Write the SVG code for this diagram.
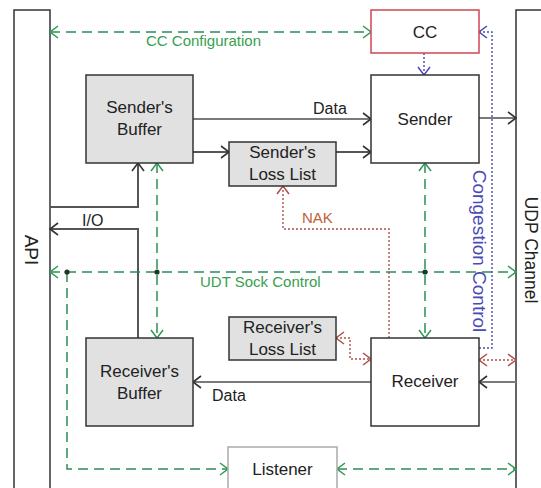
<svg xmlns="http://www.w3.org/2000/svg" width="541" height="488" viewBox="0 0 541 488">
  <style>
    text { font-family: "Liberation Sans", Arial, sans-serif; fill: #222; }
    .lbl { font-size: 17px; text-anchor: middle; }
    .box { stroke: #333; stroke-width: 1.5; fill: #fff; }
    .gray { fill: #e1e1e1; }
    .solid { fill: none; stroke: #555; stroke-width: 2; }
    .data { fill: none; stroke: #7a7a7a; stroke-width: 2.2; }
    .ctl { fill: none; stroke: #2e8a55; stroke-width: 1.5; stroke-dasharray: 10 6; }
    .nak { fill: none; stroke: #b0504a; stroke-width: 1.4; stroke-dasharray: 2 2; }
    .cong { fill: none; stroke: #4a4ab0; stroke-width: 1.4; stroke-dasharray: 2 2; }
    .gtxt { fill: #37a050; font-size: 15px; }
  </style>
  <defs>
    <marker id="arDark" viewBox="0 0 10 14" refX="9" refY="7" markerWidth="10" markerHeight="14" markerUnits="userSpaceOnUse" orient="auto-start-reverse">
      <path d="M1,1 L9,7 L1,13" fill="none" stroke="#333" stroke-width="1.6"/>
    </marker>
    <marker id="arGreen" viewBox="0 0 10 14" refX="9" refY="7" markerWidth="10" markerHeight="14" markerUnits="userSpaceOnUse" orient="auto-start-reverse">
      <path d="M1,1 L9,7 L1,13" fill="none" stroke="#2e9a55" stroke-width="1.5"/>
    </marker>
    <marker id="arRed" viewBox="0 0 10 14" refX="9" refY="7" markerWidth="10" markerHeight="14" markerUnits="userSpaceOnUse" orient="auto-start-reverse">
      <path d="M1,1 L9,7 L1,13" fill="none" stroke="#b0504a" stroke-width="1.5"/>
    </marker>
    <marker id="arBlue" viewBox="0 0 10 14" refX="9" refY="7" markerWidth="10" markerHeight="14" markerUnits="userSpaceOnUse" orient="auto-start-reverse">
      <path d="M1,1 L9,7 L1,13" fill="none" stroke="#4a4ab0" stroke-width="1.5"/>
    </marker>
  </defs>

  <rect width="541" height="488" fill="#fff"/>

  <!-- side columns -->
  <g id="api">
    <rect class="box" x="14" y="10" width="36" height="490"/>
    <text x="0" y="0" font-size="19" text-anchor="middle" transform="translate(25 250) rotate(90)">API</text>
  </g>
  <g id="udp-channel">
    <rect class="box" x="516" y="10" width="40" height="490"/>
    <text x="0" y="0" font-size="17.5" text-anchor="middle" transform="translate(524.5 250) rotate(90)">UDP Channel</text>
  </g>

  <!-- connectors -->
  <g id="connectors">
    <!-- data paths -->
    <line class="data" x1="193" y1="119" x2="371" y2="119" marker-end="url(#arDark)"/>
    <line class="solid" x1="193" y1="152" x2="229" y2="152" marker-end="url(#arDark)"/>
    <line class="solid" x1="336" y1="152" x2="371" y2="152" marker-end="url(#arDark)"/>
    <line class="data" x1="479" y1="118" x2="516" y2="118" marker-end="url(#arDark)"/>
    <polyline class="solid" points="50,207 138,207 138,163" marker-end="url(#arDark)"/>
    <polyline class="solid" points="138,338 138,229 50,229" marker-end="url(#arDark)"/>
    <line class="data" x1="371" y1="382" x2="193" y2="382" marker-end="url(#arDark)"/>
    <line class="data" x1="516" y1="382" x2="479" y2="382" marker-end="url(#arDark)"/>

    <!-- control paths -->
    <line class="ctl" x1="50" y1="32" x2="371" y2="32" marker-start="url(#arGreen)" marker-end="url(#arGreen)"/>
    <line class="ctl" x1="50" y1="272" x2="516" y2="272" marker-start="url(#arGreen)" marker-end="url(#arGreen)"/>
    <line class="ctl" x1="157" y1="163" x2="157" y2="338" marker-start="url(#arGreen)" marker-end="url(#arGreen)"/>
    <line class="ctl" x1="425" y1="163" x2="425" y2="338" marker-start="url(#arGreen)" marker-end="url(#arGreen)"/>
    <polyline class="ctl" points="67,272 67,469 228,469" marker-end="url(#arGreen)"/>
    <line class="ctl" x1="337" y1="469" x2="516" y2="469" marker-start="url(#arGreen)" marker-end="url(#arGreen)"/>
    <circle cx="67" cy="272" r="2.6" fill="#1a3a25"/>
    <circle cx="157" cy="272" r="2.6" fill="#1a3a25"/>
    <circle cx="425" cy="272" r="2.6" fill="#1a3a25"/>

    <!-- loss reports -->
    <polyline class="nak" points="389,338 389,229 283,229 283,186" marker-end="url(#arRed)"/>
    <polyline class="nak" points="336,338 350,338 350,359 371,359" marker-start="url(#arRed)" marker-end="url(#arRed)"/>
    <line class="nak" x1="479" y1="360" x2="516" y2="360" marker-start="url(#arRed)" marker-end="url(#arRed)"/>

    <!-- congestion control feedback -->
    <line class="cong" x1="424" y1="53" x2="424" y2="75" marker-end="url(#arBlue)"/>
    <polyline class="cong" points="479,348 492,348 492,32 479,32" marker-end="url(#arBlue)"/>

    <text class="gtxt" x="146" y="46">CC Configuration</text>
    <text class="gtxt" x="200" y="287">UDT Sock Control</text>
    <text x="302" y="223" font-size="15" style="fill:#c0603a">NAK</text>
    <text x="313" y="114" font-size="16">Data</text>
    <text x="212" y="401" font-size="16">Data</text>
    <text x="82" y="226" font-size="16">I/O</text>
    <text x="0" y="0" font-size="19" text-anchor="middle" transform="translate(473 251) rotate(90)" style="fill:#4a4ab8">Congestion Control</text>
  </g>

  <!-- nodes -->
  <g id="cc">
    <rect x="371" y="10" width="108" height="43" fill="#fff" stroke="#d04555" stroke-width="1.5"/>
    <text class="lbl" x="425" y="38" font-size="16">CC</text>
  </g>
  <g id="sender">
    <rect class="box" x="371" y="75" width="108" height="88"/>
    <text class="lbl" x="425" y="125">Sender</text>
  </g>
  <g id="senders-buffer">
    <rect class="box gray" x="86" y="75" width="107" height="88"/>
    <text class="lbl" x="139.5" y="113">Sender's</text>
    <text class="lbl" x="139.5" y="135">Buffer</text>
  </g>
  <g id="senders-loss-list">
    <rect class="box gray" x="229" y="142" width="107" height="44"/>
    <text class="lbl" x="282.5" y="158">Sender's</text>
    <text class="lbl" x="282.5" y="180">Loss List</text>
  </g>
  <g id="receivers-loss-list">
    <rect class="box gray" x="229" y="317" width="107" height="43"/>
    <text class="lbl" x="282.5" y="333">Receiver's</text>
    <text class="lbl" x="282.5" y="355">Loss List</text>
  </g>
  <g id="receivers-buffer">
    <rect class="box gray" x="86" y="338" width="107" height="88"/>
    <text class="lbl" x="139.5" y="377">Receiver's</text>
    <text class="lbl" x="139.5" y="399">Buffer</text>
  </g>
  <g id="receiver">
    <rect class="box" x="371" y="338" width="108" height="88"/>
    <text class="lbl" x="425" y="387">Receiver</text>
  </g>
  <g id="listener">
    <rect x="228" y="447" width="109" height="60" fill="#fff" stroke="#aaa" stroke-width="1.5"/>
    <text class="lbl" x="282.5" y="475">Listener</text>
  </g>
</svg>
